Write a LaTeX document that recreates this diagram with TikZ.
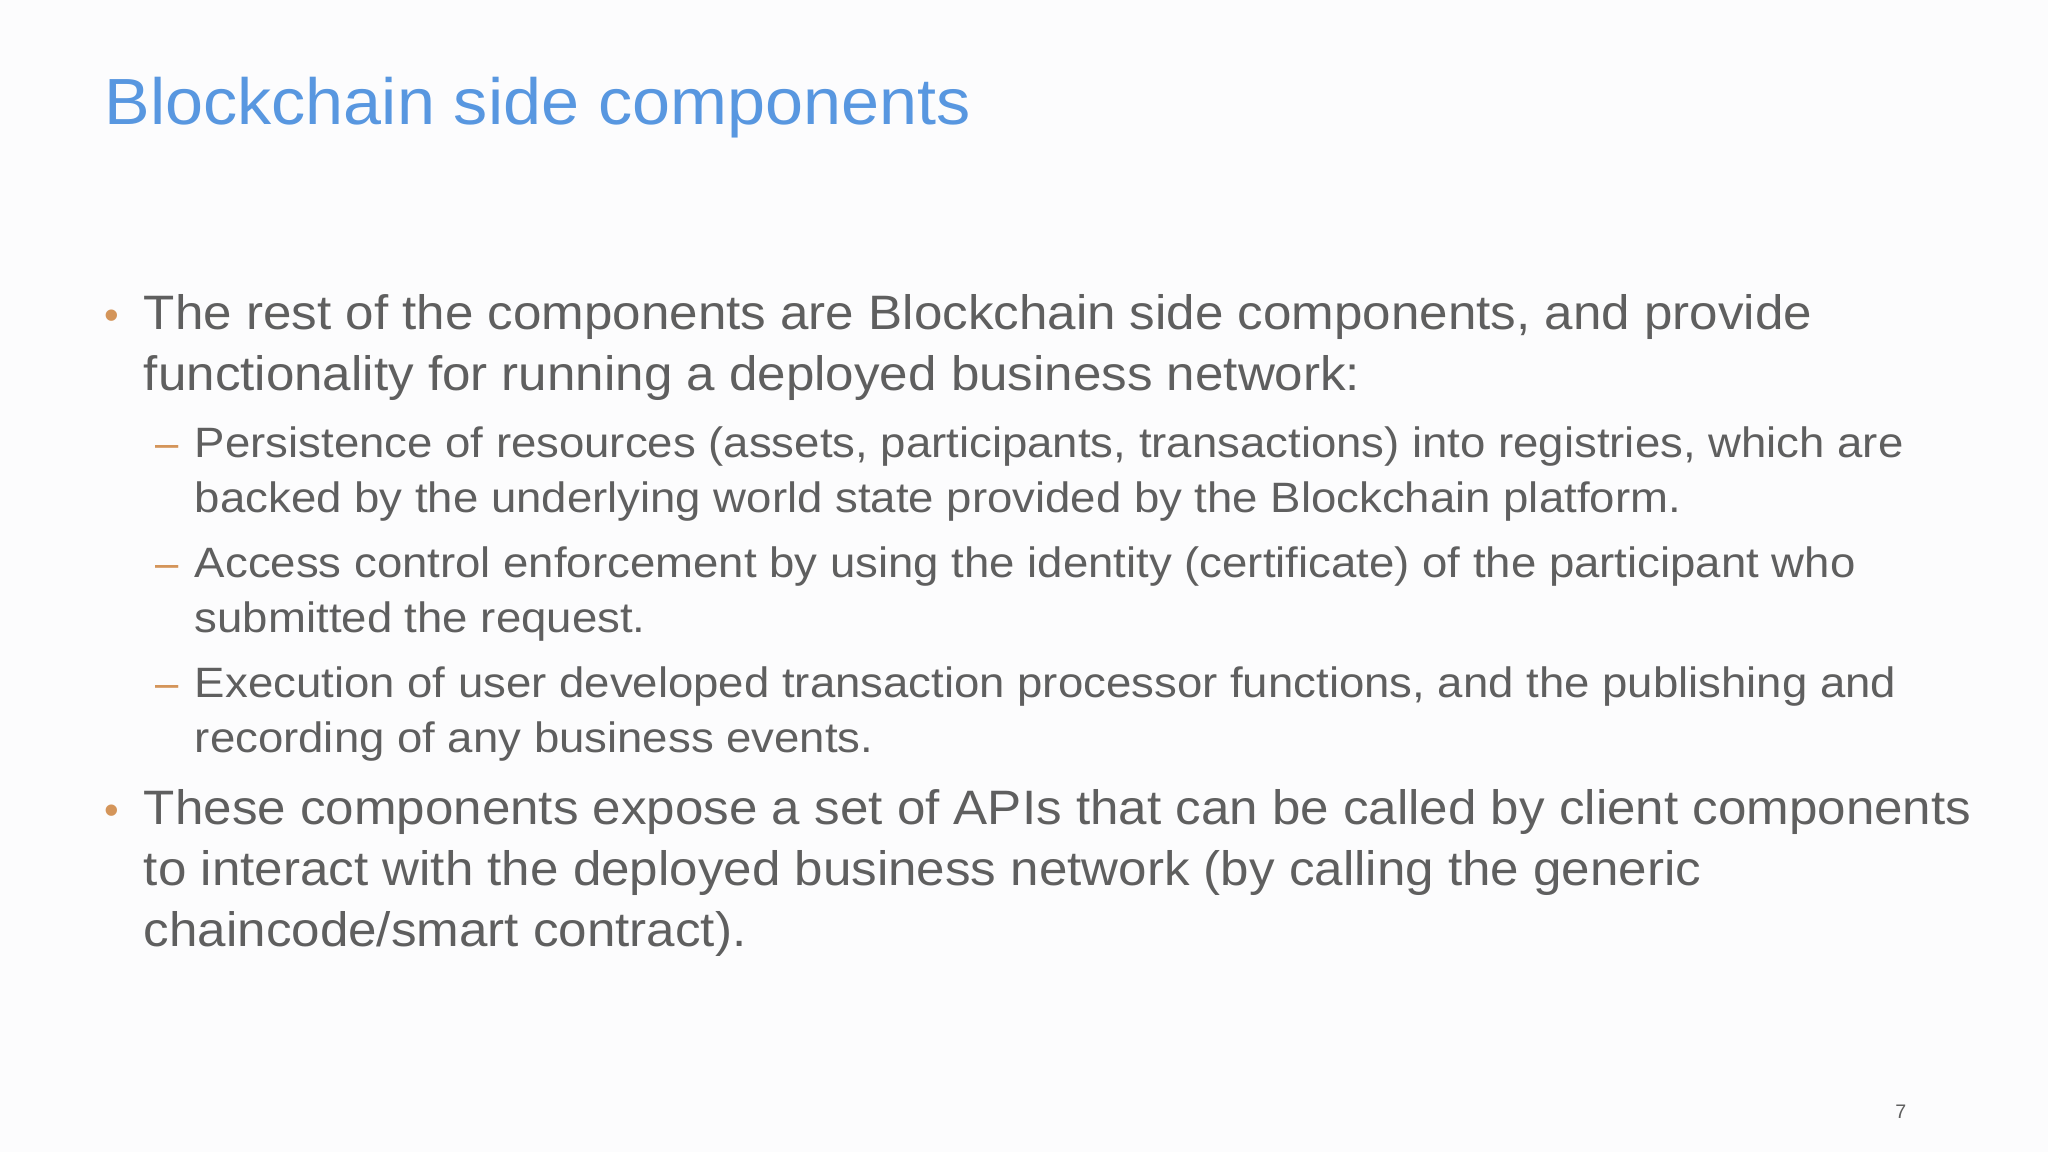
\documentclass[tikz,border=0pt]{standalone}
\usepackage{fontspec}
\setmainfont{Liberation Sans}
\newfontfamily\fa[FakeStretch=1.058]{Liberation Sans}
\newfontfamily\fb[FakeStretch=1.073]{Liberation Sans}
\newfontfamily\ft[FakeStretch=1.046]{Liberation Sans}
\definecolor{bg}{HTML}{FCFCFD}
\definecolor{txt}{HTML}{5F5F5F}
\definecolor{ttl}{HTML}{5897E0}
\definecolor{bul}{HTML}{D4955A}
\begin{document}
\begin{tikzpicture}[x=1pt,y=-1pt,
  ln/.style={anchor=base west,inner sep=0pt,text=txt,font=\fa\fontsize{37}{44}\selectfont},
  sl/.style={anchor=base west,inner sep=0pt,text=txt,font=\fb\fontsize{32.5}{40}\selectfont},
  bm/.style={anchor=base west,inner sep=0pt,text=bul,font=\fontsize{32}{40}\selectfont}]
\fill[bg] (0,0) rectangle (1568,882);
\useasboundingbox (0,0) rectangle (1568,882);
\node[anchor=base west,inner sep=0pt,text=ttl,font=\ft\fontsize{50}{60}\selectfont] (title) at (80,95) {Blockchain side components};
\node[bm] (b1) at (80,252) {•};
\node[ln] (l1a) at (110,252) {The rest of the components are Blockchain side components, and provide};
\node[ln] (l1b) at (110,299) {functionality for running a deployed business network:};
\node[bm] (d1) at (119,350) {–};
\node[sl] (s1a) at (149,350) {Persistence of resources (assets, participants, transactions) into registries, which are};
\node[sl] (s1b) at (149,392) {backed by the underlying world state provided by the Blockchain platform.};
\node[bm] (d2) at (119,442) {–};
\node[sl] (s2a) at (149,442) {Access control enforcement by using the identity (certificate) of the participant who};
\node[sl] (s2b) at (149,484) {submitted the request.};
\node[bm] (d3) at (119,534) {–};
\node[sl] (s3a) at (149,534) {Execution of user developed transaction processor functions, and the publishing and};
\node[sl] (s3b) at (149,576) {recording of any business events.};
\node[bm] (b2) at (80,631) {•};
\node[ln] (l2a) at (110,631) {These components expose a set of APIs that can be called by client components};
\node[ln] (l2b) at (110,678) {to interact with the deployed business network (by calling the generic};
\node[ln] (l2c) at (110,725) {chaincode/smart contract).};
\node[anchor=base west,inner sep=0pt,text=txt,font=\fontsize{15}{18}\selectfont] (pg) at (1451,856) {7};
\end{tikzpicture}
\end{document}
